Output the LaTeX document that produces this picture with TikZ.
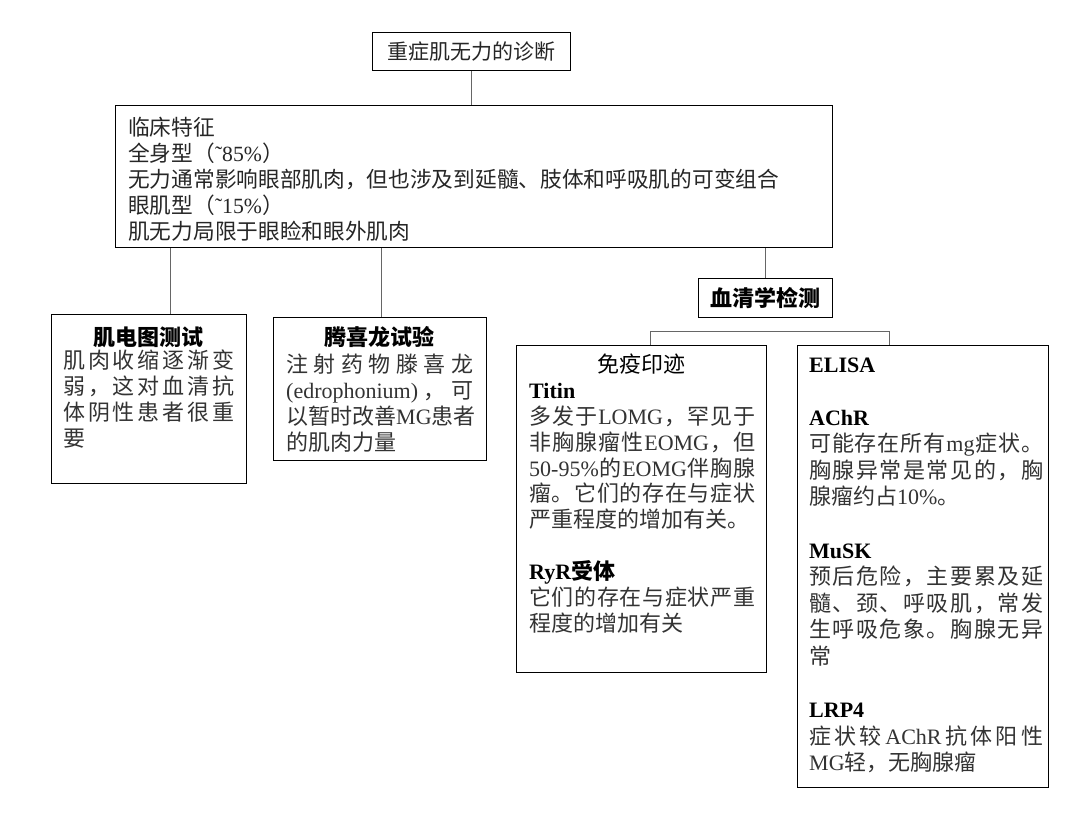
\documentclass[tikz,border=0pt]{standalone}
\usepackage{fontspec}
\setmainfont{Noto Sans CJK SC}
\newfontfamily\latinfont{Liberation Serif}
\newcommand{\en}[1]{{\latinfont #1}}
\newcommand{\key}[1]{{\color{black}\bfseries #1}}
\newcommand{\spread}[1]{\makebox[\linewidth][s]{\spaceskip=0pt plus 1fil\relax #1}}
\usetikzlibrary{arrows.meta,calc,positioning}

\begin{document}
\begin{tikzpicture}[x=1pt,y=-1pt,
    box/.style={draw, line width=1.2pt, anchor=north west, inner sep=0pt},
    words/.style={anchor=base west, inner sep=0pt, align=left, text=black!80, font=\fontsize{22}{26}\selectfont},
    head/.style={anchor=base, inner sep=0pt, font=\fontsize{22}{26}\selectfont\bfseries},
    link/.style={draw=black!60, line width=0.8pt}]
      \useasboundingbox[fill=white] (0,0) rectangle (1080,813);
      % top
      \node[box, minimum width=198, minimum height=38, text=black!85, font=\fontsize{21}{26}\selectfont] (diag) at (372,32) {重症肌无力的诊断};
      % clinical features
      \node[box, minimum width=717, minimum height=142] (clin) at (115,105) {};
      \node[words, text width=690, text=black!85, font=\fontsize{21.7}{26}\selectfont] (clintxt) at (128,136) {临床特征\\全身型（\en{˜85\%}）\\无力通常影响眼部肌肉，但也涉及到延髓、肢体和呼吸肌的可变组合\\眼肌型（\en{˜15\%}）\\肌无力局限于眼睑和眼外肌肉};
      % EMG
      \node[box, minimum width=195, minimum height=169] (emg) at (51,314) {};
      \node[head] (emghead) at (148.5,345) {肌电图测试};
      \node[words, text width=171] (emgtxt) at (63,368) {\spread{肌 肉 收 缩 逐 渐 变}\\\spread{弱 ， 这 对 血 清 抗}\\\spread{体 阴 性 患 者 很 重}\\要};
      % edrophonium
      \node[box, minimum width=213, minimum height=143] (edro) at (273,317) {};
      \node[head] (edrohead) at (379.5,345) {腾喜龙试验};
      \node[words, text width=187] (edrotxt) at (286,372) {\spread{注 射 药 物 滕 喜 龙}\\\spread{\en{(edrophonium)} ， 可}\\以暂时改善\en{MG}患者\\的肌肉力量};
      % serology
      \node[box, minimum width=134, minimum height=39, font=\fontsize{22}{26}\selectfont\bfseries] (sero) at (698,278) {血清学检测};
      % immunoblot
      \node[box, minimum width=250, minimum height=327] (blot) at (516,345) {};
      \node[head, font=\fontsize{22}{26}\selectfont] (blothead) at (641,373) {免疫印迹};
      \node[words, text width=226] (blottxt) at (529,398) {\key{\en{Titin}}\\\spread{多 发 于 \en{LOMG} ， 罕 见 于}\\\spread{非 胸 腺 瘤 性 \en{EOMG} ， 但}\\\spread{\en{50-95\%} 的 \en{EOMG} 伴 胸 腺}\\\spread{瘤 。 它 们 的 存 在 与 症 状}\\严重程度的增加有关。\\[26pt]\key{\en{RyR}受体}\\\spread{它 们 的 存 在 与 症 状 严 重}\\程度的增加有关};
      % ELISA
      \node[box, minimum width=251, minimum height=442] (elisa) at (797,345) {};
      \node[words, text width=234, font=\fontsize{22}{26.6}\selectfont] (elisatxt) at (809,372) {\key{\en{ELISA}}\\[26.6pt]\key{\en{AChR}}\\\spread{可 能 存 在 所 有 \en{mg} 症 状 。}\\\spread{胸 腺 异 常 是 常 见 的 ， 胸}\\腺瘤约占\en{10\%}。\\[26.6pt]\key{\en{MuSK}}\\\spread{预 后 危 险 ， 主 要 累 及 延}\\\spread{髓 、 颈 、 呼 吸 肌 ， 常 发}\\\spread{生 呼 吸 危 象 。 胸 腺 无 异}\\常\\[26.6pt]\key{\en{LRP4}}\\\spread{症 状 较 \en{AChR} 抗 体 阳 性}\\\en{MG}轻，无胸腺瘤};
      % links
      \draw[link] (diag.south) -- (diag.south |- clin.north);
      \draw[link] ([xshift=21.5pt]emg.north) -- ([xshift=21.5pt]emg.north |- clin.south);
      \draw[link] ([xshift=1.5pt]edro.north) -- ([xshift=1.5pt]edro.north |- clin.south);
      \draw[link] (sero.north) -- (sero.north |- clin.south);
      \draw[link] ([xshift=9pt]blot.north) |- ([xshift=-33.5pt,yshift=14pt]elisa.north) -- ([xshift=-33.5pt]elisa.north);
\end{tikzpicture}
\end{document}
